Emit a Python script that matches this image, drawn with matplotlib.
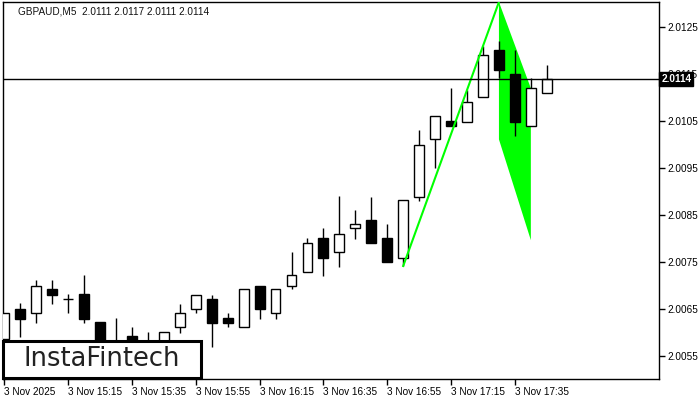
import matplotlib
matplotlib.use('Agg')
import matplotlib.pyplot as plt
from matplotlib.patches import Rectangle

# GBPAUD M5 свечи
opens  = [2.00585, 2.00650, 2.00640, 2.00692, 2.00670, 2.00681, 2.00621, 2.00560, 2.00591, 2.00570,
          2.00580, 2.00610, 2.00650, 2.00670, 2.00630, 2.00610, 2.00699, 2.00640, 2.00699, 2.00729,
          2.00800, 2.00770, 2.00821, 2.00840, 2.00800, 2.00759, 2.00889, 2.01011, 2.01050, 2.01049,
          2.01101, 2.01202, 2.01150, 2.01040, 2.01110]
highs  = [2.00640, 2.00662, 2.00711, 2.00711, 2.00681, 2.00721, 2.00621, 2.00630, 2.00610, 2.00600,
          2.00600, 2.00661, 2.00680, 2.00680, 2.00640, 2.00691, 2.00699, 2.00691, 2.00770, 2.00800,
          2.00821, 2.00890, 2.00860, 2.00889, 2.00830, 2.00881, 2.01031, 2.01060, 2.01120, 2.01116,
          2.01210, 2.01221, 2.01202, 2.01141, 2.01170]
lows   = [2.00570, 2.00590, 2.00620, 2.00660, 2.00640, 2.00620, 2.00550, 2.00545, 2.00560, 2.00555,
          2.00570, 2.00598, 2.00640, 2.00568, 2.00610, 2.00610, 2.00628, 2.00628, 2.00691, 2.00729,
          2.00720, 2.00739, 2.00799, 2.00789, 2.00750, 2.00741, 2.00880, 2.00949, 2.01040, 2.01049,
          2.01101, 2.01141, 2.01019, 2.01040, 2.01110]
closes = [2.00640, 2.00628, 2.00699, 2.00679, 2.00670, 2.00628, 2.00570, 2.00580, 2.00570, 2.00580,
          2.00600, 2.00640, 2.00680, 2.00620, 2.00620, 2.00691, 2.00649, 2.00691, 2.00721, 2.00789,
          2.00758, 2.00810, 2.00830, 2.00789, 2.00750, 2.00881, 2.01000, 2.01060, 2.01040, 2.01090,
          2.01190, 2.01160, 2.01049, 2.01120, 2.01140]

time_labels = ['3 Nov 2025', '3 Nov 15:15', '3 Nov 15:35', '3 Nov 15:55', '3 Nov 16:15',
               '3 Nov 16:35', '3 Nov 16:55', '3 Nov 17:15', '3 Nov 17:35']
time_idx = [0, 4, 8, 12, 16, 20, 24, 28, 32]
price_ticks = [2.0055, 2.0065, 2.0075, 2.0085, 2.0095, 2.0105, 2.0115, 2.0125]

# фигура "флаг": флагшток и полотнище
pole_x = [25, 31]
pole_y = [2.00741, 2.01304]
flag_x = [31, 33, 33, 31]
flag_y = [2.01304, 2.01120, 2.00796, 2.01011]

last_price = 2.0114
title = 'GBPAUD,M5  2.0111 2.0117 2.0111 2.0114'
fnt = 'Liberation Sans'

fig = plt.figure(figsize=(7, 4), dpi=100)
ax = fig.add_axes([2.7 / 700, 21 / 400, 656.6 / 700, 377 / 400])

ax.fill(flag_x, flag_y, color='#00ff00', lw=0, zorder=1)

w = 0.62
for i in range(len(opens)):
    o, h, l, c = opens[i], highs[i], lows[i], closes[i]
    ax.vlines(i, l, h, color='black', lw=1, zorder=2)
    fc = 'white' if c >= o else 'black'
    ax.bar(i, abs(c - o), bottom=min(o, c), width=w, color=fc,
           edgecolor='black', linewidth=1, zorder=3)

ax.plot(pole_x, pole_y, color='#00ff00', lw=1.5, zorder=4)

ax.axhline(last_price, color='black', lw=1, zorder=5)

ax.set_xlim(-0.1, 41.05)
ax.set_ylim(2.0050, pole_y[1])

ax.yaxis.tick_right()
ax.set_yticks(price_ticks)
ax.set_yticklabels(['%.4f' % p for p in price_ticks], fontsize=7.2, family=fnt)
ax.tick_params(axis='y', length=4, width=1, pad=2)
ax.set_xticks(time_idx)
ax.set_xticklabels(time_labels, fontsize=7.2, ha='left', family=fnt)
ax.tick_params(axis='x', length=4, width=1, pad=2)
for s in ax.spines.values():
    s.set_linewidth(1)

# текущая цена
ax.text(1.003, last_price, '2.0114', transform=ax.get_yaxis_transform(), color='white',
        fontsize=7.2, fontweight='bold', va='center', ha='left', zorder=10, clip_on=False,
        family=fnt, bbox=dict(boxstyle='square,pad=0.2', fc='black', ec='black'))

fig.text(18 / 700, 1 - 11 / 400, title, fontsize=7.2, va='center', ha='left', color='#111111',
         family=fnt)

# логотип
logo = Rectangle((3 / 700, 22 / 400), 198 / 700, 37 / 400, transform=fig.transFigure,
                 fc='white', ec='black', lw=2.2, zorder=20)
fig.patches.append(logo)
fig.text(102 / 700, 40.5 / 400, 'InstaFintech', fontsize=18.5, ha='center', va='center',
         color='#222222', family='DejaVu Sans', zorder=21)

fig.savefig('out.png', dpi=100)
